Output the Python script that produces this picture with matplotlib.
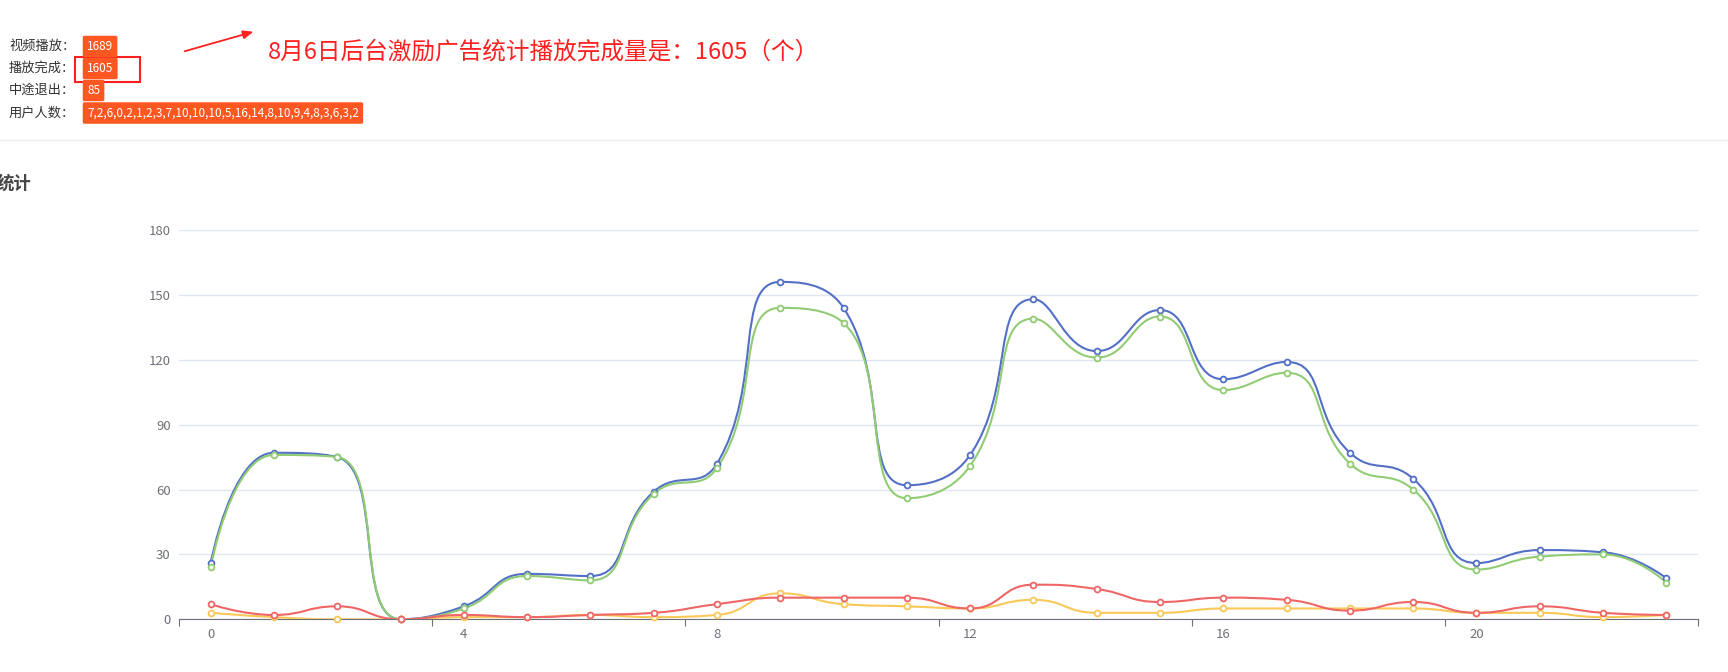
import matplotlib
matplotlib.use('Agg')
import matplotlib.pyplot as plt
import matplotlib.patches as patches
from matplotlib.path import Path
import numpy as np

plt.rcParams['font.family'] = ['Noto Sans CJK SC', 'DejaVu Sans']

# hourly data (0..23)
hours = list(range(24))
video_play = [26, 77, 75, 0, 6, 21, 20, 59, 72, 156, 144, 62, 76, 148, 124, 143, 111, 119, 77, 65, 26, 32, 31, 19]
play_done = [24, 76, 75, 0, 5, 20, 18, 58, 70, 144, 137, 56, 71, 139, 121, 140, 106, 114, 72, 60, 23, 29, 30, 17]
quit_mid = [3, 1, 0, 0, 1, 1, 2, 1, 2, 12, 7, 6, 5, 9, 3, 3, 5, 5, 5, 5, 3, 3, 1, 2]
users = [7, 2, 6, 0, 2, 1, 2, 3, 7, 10, 10, 10, 5, 16, 14, 8, 10, 9, 4, 8, 3, 6, 3, 2]

series_names = ['视频播放', '播放完成', '中途退出', '用户人数']
colors = ['#5470c6', '#91cc75', '#fac858', '#ee6666']
y_ticks = [0, 30, 60, 90, 120, 150, 180]
x_label_ticks = [0, 4, 8, 12, 16, 20]

W, H = 1728, 672
fig = plt.figure(figsize=(W / 100, H / 100), dpi=100)


def fx(x):
    return x / W


def fy(y):
    return 1 - y / H


# plot area
ax = fig.add_axes([fx(179), fy(619.3), (1698 - 179) / W, (619.3 - 230) / H])
ax.set_xlim(-0.5, 23.5)
ax.set_ylim(0, 180)


# echarts-like smooth curve (bezier, smooth=0.5) computed in pixel space
def smooth_path(xs, ys, smooth=0.5):
    pts = ax.transData.transform(np.column_stack([xs, ys]))
    n = len(pts)
    verts = [tuple(pts[0])]
    codes = [Path.MOVETO]
    cp0 = (pts[0][0], pts[0][1])
    for i in range(1, n):
        x, y = pts[i]
        px, py = pts[i - 1]
        if i + 1 >= n:
            cp1 = (x, y)
            ncp0 = (x, y)
        else:
            nx, ny = pts[i + 1]
            vx, vy = nx - px, ny - py
            l0 = np.hypot(x - px, y - py)
            l1 = np.hypot(nx - x, ny - y)
            r = l1 / (l0 + l1)
            ncx = x + vx * smooth * r
            ncy = y + vy * smooth * r
            ncx = max(min(ncx, max(nx, x)), min(nx, x))
            ncy = max(min(ncy, max(ny, y)), min(ny, y))
            vx, vy = ncx - x, ncy - y
            c1x = x - vx * l0 / l1
            c1y = y - vy * l0 / l1
            c1x = max(min(c1x, max(px, x)), min(px, x))
            c1y = max(min(c1y, max(py, y)), min(py, y))
            vx, vy = x - c1x, y - c1y
            ncx = x + vx * l1 / l0
            ncy = y + vy * l1 / l0
            cp1 = (c1x, c1y)
            ncp0 = (ncx, ncy)
        verts += [cp0, cp1, (x, y)]
        codes += [Path.CURVE4] * 3
        cp0 = ncp0
    data_verts = ax.transData.inverted().transform(np.array(verts))
    return Path(data_verts, codes)


for vals, name, c in zip([video_play, play_done, quit_mid, users], series_names, colors):
    ax.add_patch(patches.PathPatch(smooth_path(hours, vals), facecolor='none',
                                   edgecolor=c, lw=1.5, zorder=3, capstyle='round'))
    ax.plot(hours, vals, ls='none', marker='o', ms=4.2, mfc='white', mec=c, mew=1.3,
            zorder=4, label=name, clip_on=False)

# axes styling
for s in ['top', 'right', 'left']:
    ax.spines[s].set_visible(False)
ax.spines['bottom'].set_color('#6e7079')
ax.set_yticks(y_ticks)
ax.tick_params(axis='y', length=0, pad=6, labelsize=9.5, labelcolor='#6e7079')
ax.grid(axis='y', color='#e0e6f1', lw=1)
ax.set_axisbelow(True)
ax.set_xticks([-0.5, 3.5, 7.5, 11.5, 15.5, 19.5, 23.5])
ax.set_xticklabels([])
ax.tick_params(axis='x', which='major', length=5, color='#6e7079', direction='out')
ax.set_xticks(x_label_ticks, minor=True)
ax.set_xticklabels([str(v) for v in x_label_ticks], minor=True)
ax.tick_params(axis='x', which='minor', length=0, pad=6, labelsize=9.5, labelcolor='#6e7079')

# top summary block
rows = [('视频播放：', str(sum(video_play)), 46.5),
        ('播放完成：', str(sum(play_done)), 68.5),
        ('中途退出：', str(sum(quit_mid)), 90.5),
        ('用户人数：', ','.join(str(v) for v in users), 113)]
for label, badge, yy in rows:
    fig.text(fx(9), fy(yy), label, fontsize=9.5, color='#333333', va='center', ha='left')
    fig.text(fx(87), fy(yy), badge, fontsize=8.5, color='white', va='center', ha='left',
             fontweight='medium',
             bbox=dict(boxstyle='round,pad=0.36,rounding_size=0.15', fc='#ff5722', ec='none'))

# red box around the completed badge
fig.add_artist(patches.Rectangle((fx(75), fy(82)), 65 / W, 25 / H, transform=fig.transFigure,
                                 fill=False, ec='#ff1f1f', lw=1.5))

# red arrow and note
fig.add_artist(patches.FancyArrowPatch((fx(182), fy(52)), (fx(256), fy(31)),
                                       transform=fig.transFigure, arrowstyle='-|>,head_length=6,head_width=2.5',
                                       color='#ff2020', lw=1.3))
fig.text(fx(268), fy(52), '8月6日后台激励广告统计播放完成量是：%d（个）' % sum(play_done),
         fontsize=17, color='#ff2020', va='center', ha='left')

# separator line
fig.add_artist(plt.Line2D([0, 1], [fy(140), fy(140)], transform=fig.transFigure,
                          color='#eeeeee', lw=1))

# chart title (cut off at the left edge, as in the page screenshot)
fig.text(fx(-3), fy(184), '统计', fontsize=12.5, fontweight='bold', color='#464646',
         va='center', ha='left')

fig.savefig('out.png', dpi=100)
